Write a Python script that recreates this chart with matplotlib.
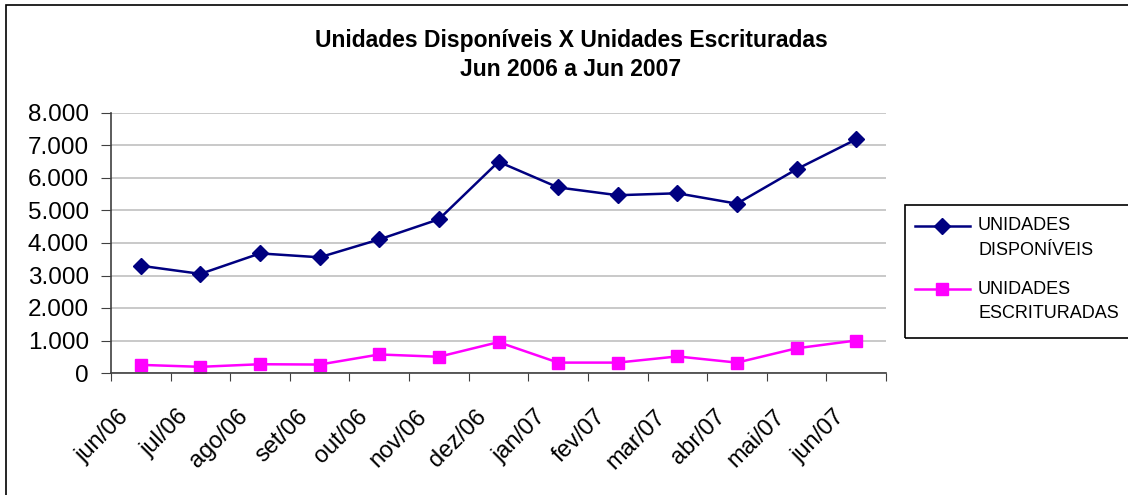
import matplotlib
matplotlib.use("Agg")
import matplotlib.pyplot as plt
from matplotlib.patches import Rectangle
from matplotlib.lines import Line2D
import matplotlib.transforms as mtransforms
import numpy as np

categories = ["jun/06", "jul/06", "ago/06", "set/06", "out/06", "nov/06", "dez/06",
              "jan/07", "fev/07", "mar/07", "abr/07", "mai/07", "jun/07"]
disponiveis = [3300, 3050, 3680, 3560, 4110, 4730, 6500, 5710, 5470, 5530, 5210, 6270, 7190]
escrituradas = [250, 190, 270, 260, 570, 500, 950, 320, 320, 510, 320, 760, 1000]
yticks = [0, 1000, 2000, 3000, 4000, 5000, 6000, 7000, 8000]
ytick_labels = ["0", "1.000", "2.000", "3.000", "4.000", "5.000", "6.000", "7.000", "8.000"]
title_lines = ["Unidades Disponíveis X Unidades Escrituradas", "Jun 2006 a Jun 2007"]
legend_lines = [["UNIDADES", "DISPONÍVEIS"], ["UNIDADES", "ESCRITURADAS"]]

plt.rcParams['font.family'] = ['Liberation Sans', 'DejaVu Sans']

W, H = 1128, 495
fig = plt.figure(figsize=(W / 100, H / 100), dpi=100)
ax = fig.add_axes([111 / W, 1 - 373 / H, (886 - 111) / W, (373 - 113) / H])

BLUE, PINK = "#000080", "#FF00FF"
x = np.arange(len(categories))
ax.plot(x, disponiveis, color=BLUE, marker="D", markersize=8, lw=1.8)
ax.plot(x, escrituradas, color=PINK, marker="s", markersize=9, lw=1.8)

ax.set_xlim(-0.5, len(categories) - 0.5)
ax.set_ylim(0, 8000)
ax.set_yticks(yticks)
ax.set_yticklabels(ytick_labels, fontsize=17.5)
ax.yaxis.grid(True, color="#C0C0C0", lw=1.2)
ax.set_axisbelow(True)

ax.set_xticks(np.arange(len(categories) + 1) - 0.5)
ax.set_xticklabels([])
ax.set_xticks(x, minor=True)
ax.set_xticklabels(categories, minor=True, rotation=45, ha="right",
                   rotation_mode="anchor", fontsize=17)
ax.tick_params(axis="x", which="minor", length=0, pad=14)
ax.tick_params(axis="x", which="major", length=6, direction="out", color="#404040")
ax.tick_params(axis="y", length=7, direction="out", color="#404040", pad=9)

offset = mtransforms.ScaledTranslation(-23 / 100, -13 / 100, fig.dpi_scale_trans)
for lab in ax.get_xticklabels(minor=True):
    lab.set_transform(lab.get_transform() + offset)

for s in ["top", "right"]:
    ax.spines[s].set_visible(False)
for s in ["left", "bottom"]:
    ax.spines[s].set_color("#404040")
    ax.spines[s].set_linewidth(1.2)

for i, t in enumerate(title_lines):
    fig.text(571 / W, 1 - (40 + 30 * i) / H, t, ha="center", va="center",
             fontsize=16.5, fontweight="bold")

# legend box drawn manually (handles aligned with first text line, as in reference)
def fx(px):
    return px / W

def fy(py):
    return 1 - py / H

fig.patches.append(Rectangle((fx(905), fy(338)), fx(1140) - fx(905), fy(205) - fy(338),
                             transform=fig.transFigure, fill=False, edgecolor="black", lw=1.2))
entry_y = [226, 289]
styles = [(BLUE, "D", 8), (PINK, "s", 9)]
for (col, mk, ms), ey, lines in zip(styles, entry_y, legend_lines):
    fig.lines.append(Line2D([fx(915), fx(970)], [fy(ey), fy(ey)], color=col, lw=1.8,
                            transform=fig.transFigure))
    fig.lines.append(Line2D([fx(942)], [fy(ey)], color=col, marker=mk, markersize=ms,
                            transform=fig.transFigure))
    for j, t in enumerate(lines):
        fig.text(fx(978), fy(ey + 24 * j), t, ha="left", va="center", fontsize=13)

fig.patches.append(Rectangle((6 / W, -0.1), 1.2, 1.1 - 5 / H, transform=fig.transFigure,
                             fill=False, edgecolor="black", lw=1.2))

fig.savefig("out.png", dpi=100)
